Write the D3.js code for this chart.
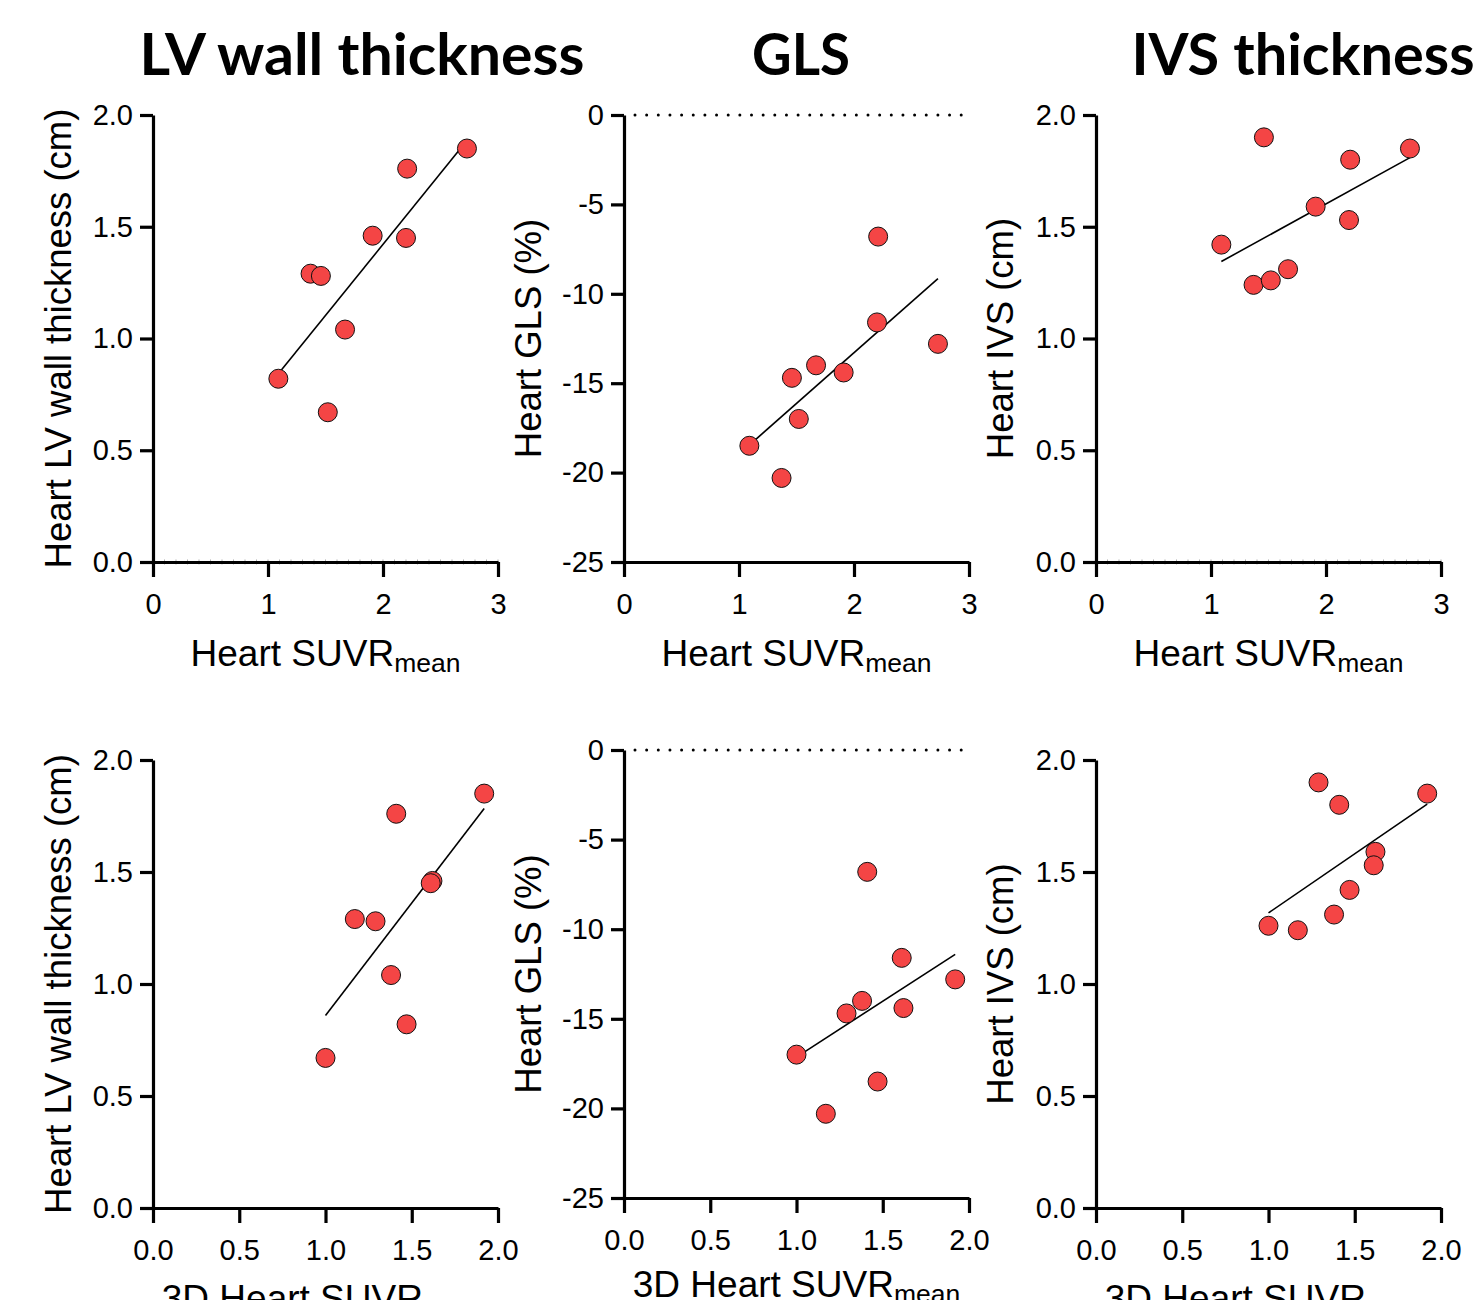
<!DOCTYPE html>
<html>
<head>
<meta charset="utf-8">
<script src="https://cdn.jsdelivr.net/npm/d3@7"></script>
<style>
  html, body { margin: 0; padding: 0; background: #ffffff; }
  svg { display: block; }
  text { font-family: "Liberation Sans", Arial, sans-serif !important; fill: #000; }
  text.title { font-family: Lato, "Open Sans", sans-serif !important; font-weight: 700; }
</style>
</head>
<body>
<svg id="chart" width="1479" height="1300"></svg>
<script>
// ---------------- data (one entry per patient) ----------------
const suvrMean = [1.09, 1.37, 1.46, 1.52, 1.67, 1.91, 2.20, 2.21, 2.73];
const suvr3D   = [1.47, 1.17, 1.29, 1.00, 1.38, 1.62, 1.61, 1.41, 1.92];
const lvWall   = [0.82, 1.29, 1.28, 0.67, 1.04, 1.46, 1.45, 1.76, 1.85];
const glsPct   = [-18.5, -20.3, -14.7, -17.0, -14.0, -14.4, -11.6, -6.8, -12.8];
const ivsCm    = [1.42, 1.24, 1.90, 1.26, 1.31, 1.59, 1.53, 1.80, 1.85];

const titles = ["LV wall thickness", "GLS", "IVS thickness"];
const yLabels = ["Heart LV wall thickness (cm)", "Heart GLS (%)", "Heart IVS (cm)"];
const xLabelTop = ["Heart SUVR", "mean"];
const xLabelBottom = ["3D Heart SUVR", "mean"];
const xTicksTop = [0, 1, 2, 3];
const xTicksBottom = [0, 0.5, 1.0, 1.5, 2.0];
const yTicksCm = [0, 0.5, 1.0, 1.5, 2.0];
const yTicksGls = [-25, -20, -15, -10, -5, 0];

// ---------------- layout ----------------
const svg = d3.select("#chart");
const FILL = "#f44545";

const panels = [
  // top row
  {x: suvrMean, y: lvWall, xd: [0, 3], xt: xTicksTop, xf: d => String(d), yd: [0, 2], yt: yTicksCm, yf: d3.format(".1f"),
   L: 153, R: 498, T: 115, B: 562, ylab: yLabels[0], ylabX: 71, xlab: xLabelTop, xlabY: 666, minor: true, zeroLine: false},
  {x: suvrMean, y: glsPct, xd: [0, 3], xt: xTicksTop, xf: d => String(d), yd: [-25, 0], yt: yTicksGls, yf: d => String(d),
   L: 624, R: 969, T: 115, B: 562, ylab: yLabels[1], ylabX: 541, xlab: xLabelTop, xlabY: 666, minor: false, zeroLine: true},
  {x: suvrMean, y: ivsCm, xd: [0, 3], xt: xTicksTop, xf: d => String(d), yd: [0, 2], yt: yTicksCm, yf: d3.format(".1f"),
   L: 1096, R: 1441, T: 115, B: 562, ylab: yLabels[2], ylabX: 1013, xlab: xLabelTop, xlabY: 666, minor: true, zeroLine: false},
  // bottom row
  {x: suvr3D, y: lvWall, xd: [0, 2], xt: xTicksBottom, xf: d3.format(".1f"), yd: [0, 2], yt: yTicksCm, yf: d3.format(".1f"),
   L: 153, R: 498, T: 760, B: 1208, ylab: yLabels[0], ylabX: 71, xlab: xLabelBottom, xlabY: 1311, minor: false, zeroLine: false},
  {x: suvr3D, y: glsPct, xd: [0, 2], xt: xTicksBottom, xf: d3.format(".1f"), yd: [-25, 0], yt: yTicksGls, yf: d => String(d),
   L: 624, R: 969, T: 750, B: 1198, ylab: yLabels[1], ylabX: 541, xlab: xLabelBottom, xlabY: 1297, minor: false, zeroLine: true},
  {x: suvr3D, y: ivsCm, xd: [0, 2], xt: xTicksBottom, xf: d3.format(".1f"), yd: [0, 2], yt: yTicksCm, yf: d3.format(".1f"),
   L: 1096, R: 1441, T: 760, B: 1208, ylab: yLabels[2], ylabX: 1013, xlab: xLabelBottom, xlabY: 1311, minor: false, zeroLine: false}
];

// titles
const titlePos = [{cx: 362, w: 445}, {cx: 801, w: 98}, {cx: 1303, w: 343}];
titles.forEach((t, i) => {
  svg.append("text").attr("class", "title")
    .attr("x", titlePos[i].cx).attr("y", 75)
    .attr("text-anchor", "middle")
    .style("font-size", "58px")
    .attr("textLength", titlePos[i].w)
    .attr("lengthAdjust", "spacingAndGlyphs")
    .text(t);
});

function linFit(xs, ys) {
  const mx = d3.mean(xs), my = d3.mean(ys);
  let sxy = 0, sxx = 0;
  xs.forEach((x, i) => { sxy += (x - mx) * (ys[i] - my); sxx += (x - mx) * (x - mx); });
  const b = sxy / sxx;
  return {b, a: my - b * mx};
}

panels.forEach(p => {
  const xs = d3.scaleLinear().domain(p.xd).range([p.L, p.R]);
  const ys = d3.scaleLinear().domain(p.yd).range([p.B, p.T]);
  const g = svg.append("g");

  // zero dotted line
  if (p.zeroLine) {
    g.append("line")
      .attr("x1", xs(p.xd[0]) + 11).attr("x2", p.R - 6)
      .attr("y1", ys(0)).attr("y2", ys(0))
      .attr("stroke", "#000").attr("stroke-width", 3)
      .attr("stroke-linecap", "round")
      .attr("stroke-dasharray", "0 11.65");
  }

  // minor ticks on x axis
  if (p.minor) {
    const mt = d3.range(p.xd[0], p.xd[1] + 1e-9, 0.1);
    g.selectAll("line.minor").data(mt).join("line")
      .attr("x1", d => xs(d)).attr("x2", d => xs(d))
      .attr("y1", p.B - 2.5).attr("y2", p.B + 2.5)
      .attr("stroke", "#777").attr("stroke-width", 0.6);
  }

  // x axis
  const xa = g.append("g").attr("transform", `translate(0,${p.B})`)
    .call(d3.axisBottom(xs).tickValues(p.xt).tickFormat(p.xf).tickSize(15).tickSizeOuter(0).tickPadding(16));
  xa.select(".domain").attr("stroke-width", 3.2);
  xa.selectAll(".tick line").attr("stroke-width", 3.2);
  xa.selectAll(".tick text").style("font-size", "29px");

  // y axis
  const ya = g.append("g").attr("transform", `translate(${p.L},0)`)
    .call(d3.axisLeft(ys).tickValues(p.yt).tickFormat(p.yf).tickSize(13).tickSizeOuter(0).tickPadding(7));
  ya.select(".domain").attr("stroke-width", 3.2);
  ya.selectAll(".tick line").attr("stroke-width", 3.2);
  ya.selectAll(".tick text").style("font-size", "29px");

  // regression line over data range
  const fit = linFit(p.x, p.y);
  const x0 = d3.min(p.x), x1 = d3.max(p.x);
  g.append("line")
    .attr("x1", xs(x0)).attr("y1", ys(fit.a + fit.b * x0))
    .attr("x2", xs(x1)).attr("y2", ys(fit.a + fit.b * x1))
    .attr("stroke", "#000").attr("stroke-width", 1.6);

  // points
  const pts = p.x.map((d, i) => ({x: d, y: p.y[i]}));
  g.selectAll("circle").data(pts).join("circle")
    .attr("cx", d => xs(d.x)).attr("cy", d => ys(d.y))
    .attr("r", 9.5)
    .attr("fill", FILL).attr("stroke", "#111").attr("stroke-width", 1);

  // y label
  const cy = (p.T + p.B) / 2;
  svg.append("text")
    .attr("transform", `translate(${p.ylabX},${cy}) rotate(-90)`)
    .attr("text-anchor", "middle")
    .style("font-size", "36.5px")
    .text(p.ylab);

  // x label with subscript
  const xt = svg.append("text")
    .attr("x", (p.L + p.R) / 2).attr("y", p.xlabY)
    .attr("text-anchor", "middle")
    .style("font-size", "37px");
  xt.append("tspan").text(p.xlab[0]);
  xt.append("tspan").attr("dy", 6).style("font-size", "26.5px").text(p.xlab[1]);
});
</script>
</body>
</html>
